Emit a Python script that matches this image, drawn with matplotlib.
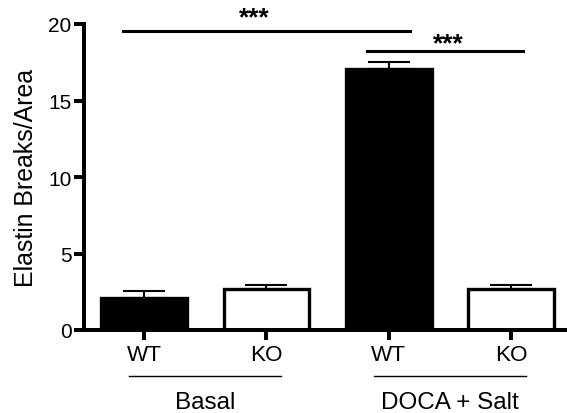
import matplotlib
matplotlib.use("Agg")
import matplotlib.pyplot as plt

plt.rcParams["font.family"] = ["Liberation Sans", "DejaVu Sans"]

# data
genotypes = ["WT", "KO", "WT", "KO"]
groups = ["Basal", "DOCA + Salt"]
means = [2.07, 2.65, 17.06, 2.65]
errors = [0.45, 0.3, 0.45, 0.3]
fills = ["black", "white", "black", "white"]
x = [0, 1, 2, 3]

fig = plt.figure(figsize=(5.67, 4.14), dpi=100)
ax = fig.add_axes([84 / 567, 1 - 331 / 414, 1 - 84 / 567, (331 - 25) / 414])

ax.bar(x, means, width=0.7, color=fills, edgecolor="black", linewidth=2.4, zorder=2)
ax.errorbar(x, means, yerr=[[0] * 4, errors], fmt="none", ecolor="black",
            elinewidth=1.5, capsize=15, capthick=1.5, zorder=1)

ax.set_xlim(-0.49, 3.457)
ax.set_ylim(0, 20)
ax.set_yticks([0, 5, 10, 15, 20])
ax.set_xticks(x)
ax.set_xticklabels(genotypes, fontsize=16.2)
ax.tick_params(axis="y", labelsize=15, width=2.9, length=7, pad=2)
ax.tick_params(axis="x", width=2.9, length=7, pad=3)
ax.set_ylabel("Elastin Breaks/Area", fontsize=17.9)
ax.yaxis.set_label_coords(-0.095, 0.5)

for s in ["top", "right"]:
    ax.spines[s].set_visible(False)
for s in ["left", "bottom"]:
    ax.spines[s].set_linewidth(2.9)

# significance brackets
ax.plot([-0.17, 2.17], [19.54, 19.54], color="black", lw=2.2, clip_on=False)
ax.text(0.906, 20.0, "***", ha="center", va="baseline", fontsize=19, fontweight="bold")
ax.plot([1.82, 3.10], [18.24, 18.24], color="black", lw=2.2, clip_on=False)
ax.text(2.49, 18.3, "***", ha="center", va="baseline", fontsize=19, fontweight="bold")

# group labels under the axis
for i, g in enumerate(groups):
    c = 2 * i + 0.5
    ax.plot([c - 0.62, c + 0.62], [-2.99, -2.99], color="black", lw=1.0, clip_on=False)
    ax.text(c, -4.0, g, ha="center", va="top", fontsize=17.5)

fig.savefig("out.png", dpi=100)
